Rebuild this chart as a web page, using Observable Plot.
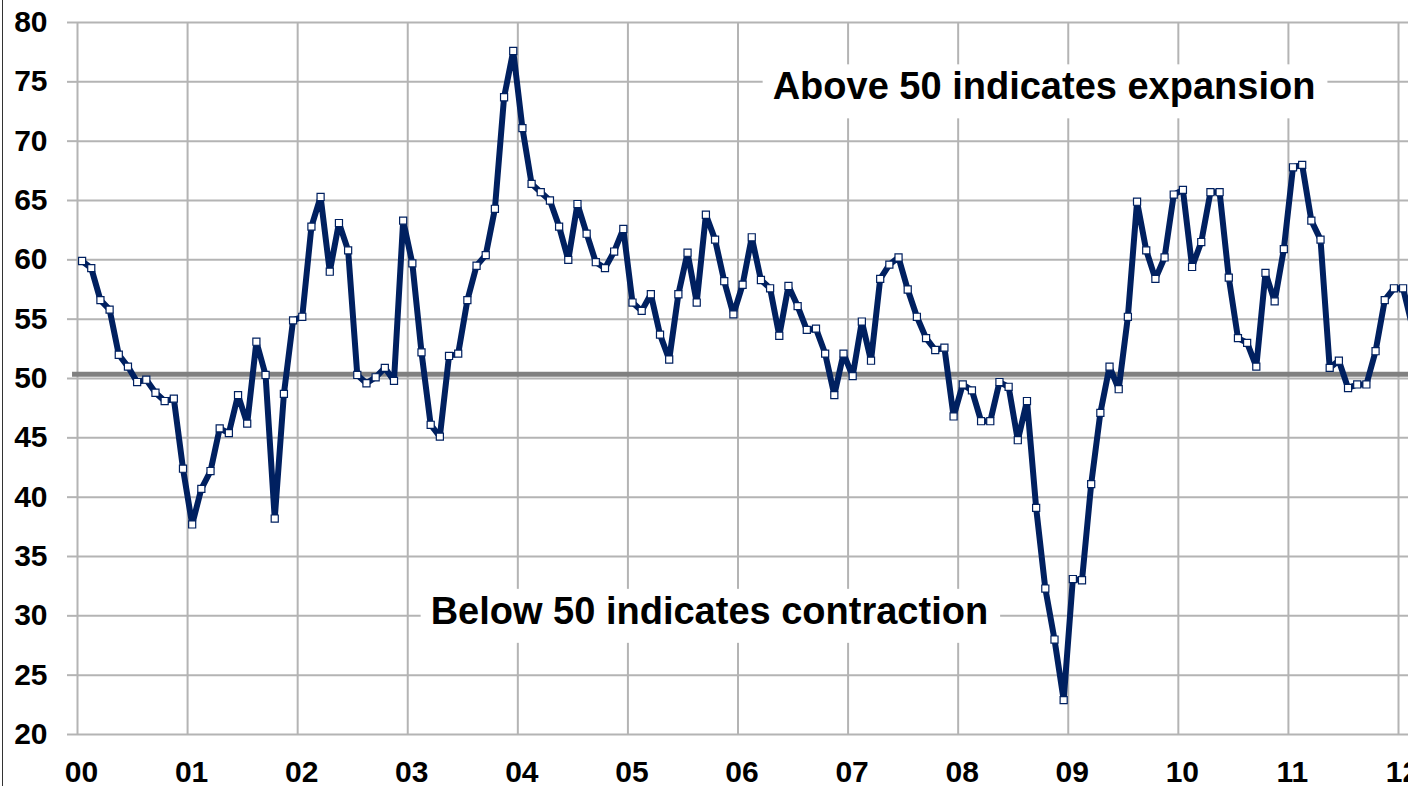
<!DOCTYPE html>
<html>
<head>
<meta charset="utf-8">
<script src="https://cdn.jsdelivr.net/npm/d3@7"></script>
<script src="https://cdn.jsdelivr.net/npm/@observablehq/plot@0.6"></script>
<style>
  html, body { margin: 0; padding: 0; background: #fff; overflow: hidden; }
  #wrap { position: relative; width: 1408px; height: 786px; }
  #border { position: absolute; left: 2px; top: 0; width: 1px; height: 786px; background: #333; }
</style>
</head>
<body>
<div id="wrap"><div id="chart"></div><div id="border"></div></div>
<script>
// Tick labels / categories
const years = [2000, 2001, 2002, 2003, 2004, 2005, 2006, 2007, 2008, 2009, 2010, 2011, 2012];
const yTicks = [20, 25, 30, 35, 40, 45, 50, 55, 60, 65, 70, 75, 80];
const threshold = [50.35];
const notes = ["Above 50 indicates expansion", "Below 50 indicates contraction"];

// Monthly index values, Jan..Dec of each year
const v2000 = [59.9, 59.3, 56.6, 55.8, 52.0, 51.0, 49.7, 49.9, 48.8, 48.1, 48.3, 42.4];
const v2001 = [37.7, 40.7, 42.2, 45.8, 45.4, 48.6, 46.2, 53.1, 50.3, 38.2, 48.7, 54.9];
const v2002 = [55.2, 62.8, 65.3, 59.0, 63.1, 60.8, 50.3, 49.6, 50.1, 50.9, 49.8, 63.3];
const v2003 = [59.7, 52.2, 46.1, 45.1, 51.9, 52.1, 56.6, 59.5, 60.4, 64.3, 73.7, 77.6];
const v2004 = [71.1, 66.4, 65.7, 65.0, 62.8, 60.0, 64.7, 62.2, 59.8, 59.3, 60.7, 62.6];
const v2005 = [56.4, 55.7, 57.1, 53.7, 51.6, 57.1, 60.6, 56.4, 63.8, 61.7, 58.2, 55.4];
const v2006 = [57.9, 61.9, 58.3, 57.6, 53.6, 57.8, 56.1, 54.1, 54.2, 52.1, 48.6, 52.1];
const v2007 = [50.2, 54.8, 51.5, 58.4, 59.6, 60.2, 57.5, 55.2, 53.4, 52.4, 52.6, 46.8];
const v2008 = [49.5, 49.0, 46.4, 46.4, 49.7, 49.3, 44.8, 48.1, 39.1, 32.3, 28.0, 22.9];
const v2009 = [33.1, 33.0, 41.1, 47.1, 51.0, 49.1, 55.2, 64.9, 60.8, 58.4, 60.2, 65.5];
const v2010 = [65.9, 59.4, 61.5, 65.7, 65.7, 58.5, 53.4, 53.0, 51.0, 58.9, 56.5, 60.9];
const v2011 = [67.8, 68.0, 63.3, 61.7, 50.9, 51.5, 49.2, 49.5, 49.5, 52.3, 56.6, 57.6];
const v2012 = [57.6, 54.4];

const byYear = [v2000, v2001, v2002, v2003, v2004, v2005, v2006, v2007, v2008, v2009, v2010, v2011, v2012];
const data = byYear.flatMap((vals, k) => vals.map((v, i) => ({t: years[k] + (i + 0.5) / 12, value: v})));

const W = 1408, H = 786, ML = 77, MR = 0, MT = 22, MB = 52;
// gridline for the last year sits 10px inside the right edge
const xEnd = 2000 + 12 * (W - ML) / (W - ML - 10);
const gridColor = "#b4b4b4";
const navy = "#002060";

const chart = Plot.plot({
  width: W,
  height: H,
  marginLeft: ML,
  marginRight: MR,
  marginTop: MT,
  marginBottom: MB,
  style: {fontFamily: "'Liberation Sans', Arial, sans-serif", fontWeight: "bold", fontSize: "30px", color: "#000", background: "#fff"},
  x: {domain: [2000, xEnd], label: null},
  y: {domain: [20, 80], label: null},
  marks: [
    Plot.gridY(yTicks, {stroke: gridColor, strokeOpacity: 1, strokeWidth: 2}),
    Plot.gridX(years, {stroke: gridColor, strokeOpacity: 1, strokeWidth: 2}),
    Plot.axisY(yTicks, {label: null, tickSize: 10, tickPadding: 20, stroke: gridColor, strokeWidth: 2, fontSize: 30, fontWeight: "bold", fill: "#000"}),
    Plot.axisX(years, {label: null, tickSize: 0, tickPadding: 26, dx: 4, tickFormat: d => String(d % 100).padStart(2, "0"), fontSize: 30, fontWeight: "bold", fill: "#000"}),
    Plot.ruleY(threshold, {x1: 2000 - 5 / 110.9, x2: xEnd, stroke: "#808080", strokeWidth: 5}),
    Plot.text([notes[0]], {x: 2008.78, y: 74.55, text: d => d, fontSize: 38, fontWeight: "bold", fill: "#000", textAnchor: "middle"}),
    Plot.text([notes[1]], {x: 2005.74, y: 30.35, text: d => d, fontSize: 38, fontWeight: "bold", fill: "#000", textAnchor: "middle"}),
    Plot.line(data, {x: "t", y: "value", stroke: navy, strokeWidth: 6, strokeLinejoin: "round", clip: true}),
    Plot.dot(data, {x: "t", y: "value", symbol: "square", r: 4, fill: "#fff", stroke: navy, strokeWidth: 1.2, clip: true})
  ]
});

document.getElementById("chart").appendChild(chart);

// white boxes behind the annotations (they hide the gridlines like in the original)
d3.select(chart).selectAll('g[aria-label="text"]').each(function() {
  const g = this;
  d3.select(g).selectAll("text").each(function() {
    const b = this.getBBox();
    const tr = this.getAttribute("transform");
    const r = document.createElementNS("http://www.w3.org/2000/svg", "rect");
    r.setAttribute("x", b.x - 10);
    r.setAttribute("y", b.y - 1);
    r.setAttribute("width", b.width + 22);
    r.setAttribute("height", b.height + 12);
    r.setAttribute("fill", "#fff");
    if (tr) r.setAttribute("transform", tr);
    g.insertBefore(r, this);
  });
});
</script>
</body>
</html>
